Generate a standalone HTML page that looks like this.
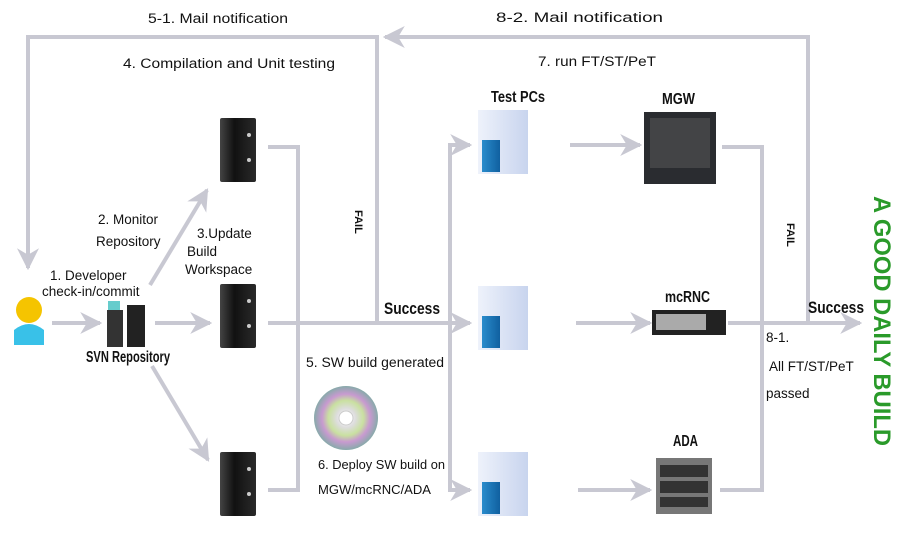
<!DOCTYPE html>
<html><head><meta charset="utf-8"><style>
html,body{margin:0;padding:0;background:#fff;}
svg{display:block;}
text{font-family:"Liberation Sans",sans-serif;fill:#111;}
.t{font-size:13.5px;}
.b{font-family:"Liberation Sans",sans-serif;font-weight:bold;font-size:16px;}
</style></head><body>
<svg width="905" height="549" viewBox="0 0 905 549" xmlns="http://www.w3.org/2000/svg">
<defs>
<marker id="a" viewBox="0 0 10 10" refX="9" refY="5" markerWidth="5.5" markerHeight="5.5" orient="auto" markerUnits="strokeWidth">
<path d="M0,0 L10,5 L0,10 L3,5 Z" fill="#c8c8d2"/>
</marker>
<linearGradient id="srv" x1="0" x2="1"><stop offset="0" stop-color="#444"/><stop offset=".4" stop-color="#111"/><stop offset="1" stop-color="#2a2a2a"/></linearGradient>
<linearGradient id="pc" x1="0" x2="1"><stop offset="0" stop-color="#eef2fb"/><stop offset="1" stop-color="#c8d4ee"/></linearGradient>
<linearGradient id="pcb" x1="0" x2="1"><stop offset="0" stop-color="#2a8ccc"/><stop offset="1" stop-color="#1060a0"/></linearGradient>
<radialGradient id="cd"><stop offset="0" stop-color="#fff"/><stop offset=".3" stop-color="#ddd"/><stop offset=".55" stop-color="#c9e0a0"/><stop offset=".75" stop-color="#c89ad0"/><stop offset="1" stop-color="#8aa"/></radialGradient>
</defs>
<g fill="none" stroke="#c8c8d2" stroke-width="4">
<polyline points="377,323 377,37 28,37 28,268" marker-end="url(#a)"/>
<polyline points="808,323 808,37 385,37" marker-end="url(#a)"/>
<polyline points="268,147 298,147 298,490 268,490"/>
<line x1="268" y1="323" x2="470" y2="323" marker-end="url(#a)"/>
<polyline points="470,145 450,145 450,490 470,490"/>
<line x1="450" y1="145" x2="470" y2="145" marker-end="url(#a)"/>
<line x1="450" y1="490" x2="470" y2="490" marker-end="url(#a)"/>
<line x1="52" y1="323" x2="100" y2="323" marker-end="url(#a)"/>
<line x1="155" y1="323" x2="210" y2="323" marker-end="url(#a)"/>
<line x1="150" y1="285" x2="207" y2="190" marker-end="url(#a)"/>
<line x1="152" y1="366" x2="208" y2="460" marker-end="url(#a)"/>
<line x1="570" y1="145" x2="640" y2="145" marker-end="url(#a)"/>
<line x1="576" y1="323" x2="650" y2="323" marker-end="url(#a)"/>
<line x1="578" y1="490" x2="650" y2="490" marker-end="url(#a)"/>
<polyline points="722,147 762,147 762,490 720,490"/>
<line x1="728" y1="323" x2="860" y2="323" marker-end="url(#a)"/>
</g>
<g id="s"><rect x="220" y="118" width="36" height="64" rx="2" fill="url(#srv)"/><circle cx="249" cy="135" r="2" fill="#ccc"/><circle cx="249" cy="160" r="2" fill="#ccc"/></g>
<use href="#s" y="166"/><use href="#s" y="334"/>
<g id="p"><rect x="478" y="110" width="50" height="64" fill="url(#pc)"/><rect x="482" y="140" width="18" height="32" fill="url(#pcb)"/></g>
<use href="#p" y="176"/><use href="#p" y="342"/>
<rect x="644" y="112" width="72" height="72" fill="#2a2c30"/><rect x="650" y="118" width="60" height="50" fill="#555" opacity=".6"/>
<rect x="652" y="310" width="74" height="25" fill="#222"/><rect x="656" y="314" width="50" height="16" fill="#aaa"/>
<rect x="656" y="458" width="56" height="56" fill="#777"/><rect x="660" y="465" width="48" height="12" fill="#333"/><rect x="660" y="481" width="48" height="12" fill="#333"/><rect x="660" y="497" width="48" height="10" fill="#333"/>
<rect x="107" y="310" width="16" height="37" fill="#333"/><rect x="108" y="301" width="12" height="9" fill="#6cc"/><rect x="127" y="305" width="18" height="42" fill="#222"/>
<circle cx="29" cy="310" r="13" fill="#f5c400"/><path d="M14,345 L14,330 Q29,318 44,330 L44,345 Z" fill="#39c1e8"/>
<circle cx="346" cy="418" r="32" fill="url(#cd)"/><circle cx="346" cy="418" r="7" fill="#fff" stroke="#ccc"/>
<g lengthAdjust="spacingAndGlyphs">
<text class="t" x="148" y="23" textLength="140" lengthAdjust="spacingAndGlyphs">5-1. Mail notification</text>
<text class="t" x="496" y="22" textLength="167" lengthAdjust="spacingAndGlyphs">8-2. Mail notification</text>
<text class="t" x="123" y="68" textLength="212" lengthAdjust="spacingAndGlyphs">4. Compilation and Unit testing</text>
<text class="t" x="538" y="66" textLength="118" lengthAdjust="spacingAndGlyphs">7. run FT/ST/PeT</text>
<text class="t" x="306" y="367" textLength="138" lengthAdjust="spacingAndGlyphs">5. SW build generated</text>
<text class="t" x="318" y="469" style="font-size:12.5px" textLength="127" lengthAdjust="spacingAndGlyphs">6. Deploy SW build on</text>
<text class="t" x="318" y="494" style="font-size:12.5px" textLength="113" lengthAdjust="spacingAndGlyphs">MGW/mcRNC/ADA</text>
<text class="b" x="86" y="362" textLength="84" lengthAdjust="spacingAndGlyphs">SVN Repository</text>
<text class="b" x="384" y="314" textLength="56" lengthAdjust="spacingAndGlyphs" style="font-size:17px">Success</text>
<text class="b" x="808" y="313" textLength="56" lengthAdjust="spacingAndGlyphs" style="font-size:17px">Success</text>
<text class="b" x="491" y="102" textLength="54" lengthAdjust="spacingAndGlyphs">Test PCs</text>
<text class="b" x="662" y="104" textLength="33" lengthAdjust="spacingAndGlyphs">MGW</text>
<text class="b" x="665" y="302" textLength="45" lengthAdjust="spacingAndGlyphs">mcRNC</text>
<text class="b" x="673" y="446" textLength="25" lengthAdjust="spacingAndGlyphs">ADA</text>
</g>
<text class="t" x="98" y="224">2. Monitor</text>
<text class="t" x="96" y="246">Repository</text>
<text class="t" x="197" y="238">3.Update</text>
<text class="t" x="187" y="256">Build</text>
<text class="t" x="185" y="274">Workspace</text>
<text class="t" x="50" y="280">1. Developer</text>
<text class="t" x="42" y="296">check-in/commit</text>
<text class="t" x="766" y="342">8-1.</text>
<text class="t" x="769" y="371">All FT/ST/PeT</text>
<text class="t" x="766" y="398">passed</text>
<text class="b" transform="translate(355,210) rotate(90)" style="font-size:11px">FAIL</text>
<text class="b" transform="translate(787,223) rotate(90)" style="font-size:11px">FAIL</text>
<text transform="translate(874,196) rotate(90)" textLength="250" lengthAdjust="spacingAndGlyphs" style="font-size:24px;font-weight:bold;fill:#2a9a2a">A GOOD DAILY BUILD</text>
</svg>
</body></html>
